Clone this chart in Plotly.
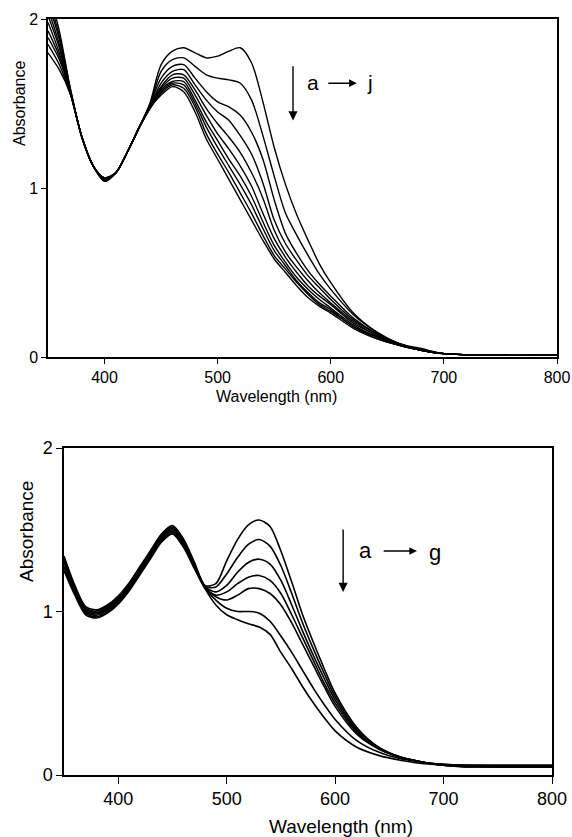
import plotly.graph_objects as go

# --- data (wavelength in nm, absorbance) ---
WL_TOP = [350, 360, 370, 380, 390, 400, 410, 420, 430, 440, 450, 460, 470, 480, 490,
          500, 510, 520, 530, 540, 550, 560, 570, 580, 590, 600, 620, 640, 660, 680,
          700, 750, 800]

TOP_LABELS = ["a", "b", "c", "d", "e", "f", "g", "h", "i", "j"]
TOP_A = [1.80, 1.70, 1.55, 1.30, 1.13, 1.04, 1.09, 1.21, 1.35, 1.50, 1.73, 1.81, 1.83, 1.80, 1.77,
         1.78, 1.81, 1.83, 1.74, 1.51, 1.24, 1.02, 0.84, 0.69, 0.55, 0.44, 0.26, 0.15, 0.08, 0.05,
         0.02, 0.01, 0.01]
TOP_B = [1.85, 1.73, 1.55, 1.30, 1.13, 1.04, 1.09, 1.21, 1.35, 1.49, 1.69, 1.76, 1.77, 1.72, 1.67,
         1.65, 1.64, 1.62, 1.52, 1.31, 1.07, 0.85, 0.72, 0.60, 0.49, 0.40, 0.25, 0.15, 0.08, 0.04,
         0.02, 0.01, 0.01]
TOP_C = [1.89, 1.76, 1.56, 1.30, 1.13, 1.05, 1.09, 1.21, 1.35, 1.49, 1.65, 1.72, 1.73, 1.65, 1.57,
         1.51, 1.48, 1.43, 1.33, 1.17, 0.93, 0.73, 0.61, 0.51, 0.43, 0.36, 0.23, 0.14, 0.08, 0.04,
         0.02, 0.01, 0.01]
TOP_D = [1.93, 1.78, 1.56, 1.30, 1.13, 1.05, 1.09, 1.21, 1.35, 1.48, 1.62, 1.69, 1.70, 1.61, 1.52,
         1.45, 1.40, 1.31, 1.20, 1.03, 0.81, 0.67, 0.57, 0.48, 0.41, 0.34, 0.22, 0.14, 0.08, 0.04,
         0.02, 0.01, 0.01]
TOP_E = [1.98, 1.80, 1.56, 1.30, 1.13, 1.05, 1.09, 1.21, 1.35, 1.48, 1.60, 1.67, 1.67, 1.58, 1.47,
         1.38, 1.30, 1.21, 1.09, 0.94, 0.75, 0.62, 0.53, 0.45, 0.38, 0.32, 0.21, 0.13, 0.08, 0.04,
         0.02, 0.01, 0.01]
TOP_F = [2.02, 1.83, 1.56, 1.30, 1.13, 1.05, 1.09, 1.21, 1.35, 1.48, 1.59, 1.65, 1.65, 1.55, 1.43,
         1.32, 1.23, 1.13, 1.01, 0.85, 0.70, 0.59, 0.50, 0.42, 0.36, 0.31, 0.20, 0.13, 0.07, 0.04,
         0.02, 0.01, 0.01]
TOP_G = [2.06, 1.85, 1.57, 1.30, 1.13, 1.06, 1.09, 1.21, 1.35, 1.47, 1.58, 1.63, 1.63, 1.52, 1.39,
         1.28, 1.17, 1.07, 0.95, 0.80, 0.66, 0.56, 0.47, 0.40, 0.34, 0.29, 0.19, 0.12, 0.07, 0.04,
         0.02, 0.01, 0.01]
TOP_H = [2.10, 1.88, 1.57, 1.30, 1.13, 1.06, 1.09, 1.21, 1.35, 1.47, 1.57, 1.62, 1.61, 1.50, 1.36,
         1.24, 1.13, 1.02, 0.90, 0.76, 0.63, 0.54, 0.45, 0.38, 0.32, 0.28, 0.18, 0.12, 0.07, 0.04,
         0.02, 0.01, 0.01]
TOP_I = [2.14, 1.90, 1.58, 1.30, 1.13, 1.06, 1.09, 1.21, 1.35, 1.47, 1.56, 1.61, 1.59, 1.48, 1.32,
         1.20, 1.09, 0.97, 0.85, 0.72, 0.60, 0.52, 0.44, 0.37, 0.31, 0.27, 0.18, 0.11, 0.07, 0.04,
         0.02, 0.01, 0.01]
TOP_J = [2.18, 1.93, 1.58, 1.30, 1.13, 1.06, 1.09, 1.21, 1.35, 1.47, 1.55, 1.60, 1.57, 1.45, 1.29,
         1.17, 1.05, 0.93, 0.81, 0.69, 0.58, 0.50, 0.42, 0.35, 0.30, 0.26, 0.17, 0.11, 0.07, 0.04,
         0.02, 0.01, 0.01]

WL_BOT = [350, 360, 370, 380, 390, 400, 410, 420, 430, 440, 450, 460, 470, 480, 490,
          500, 510, 520, 530, 540, 550, 560, 570, 580, 590, 600, 620, 640, 660, 680,
          700, 720, 750, 800]

BOT_LABELS = ["a", "b", "c", "d", "e", "f", "g"]
BOT_A = [1.34, 1.16, 1.030, 1.010, 1.040, 1.095, 1.175, 1.275, 1.375, 1.475, 1.525, 1.445, 1.305, 1.160, 1.17,
         1.31, 1.44, 1.53, 1.56, 1.52, 1.37, 1.18, 0.98, 0.81, 0.65, 0.50, 0.29, 0.17, 0.11, 0.08,
         0.065, 0.06, 0.06, 0.06]
BOT_B = [1.33, 1.15, 1.020, 1.002, 1.032, 1.087, 1.167, 1.267, 1.367, 1.467, 1.517, 1.437, 1.298, 1.155, 1.15,
         1.23, 1.33, 1.41, 1.44, 1.40, 1.28, 1.11, 0.93, 0.77, 0.62, 0.48, 0.28, 0.17, 0.11, 0.08,
         0.065, 0.06, 0.06, 0.06]
BOT_C = [1.31, 1.14, 1.013, 0.993, 1.023, 1.078, 1.158, 1.258, 1.358, 1.458, 1.508, 1.428, 1.292, 1.152, 1.12,
         1.16, 1.24, 1.30, 1.32, 1.29, 1.19, 1.04, 0.88, 0.73, 0.59, 0.46, 0.27, 0.16, 0.11, 0.08,
         0.06, 0.06, 0.055, 0.055]
BOT_D = [1.30, 1.13, 1.005, 0.985, 1.015, 1.070, 1.150, 1.250, 1.350, 1.450, 1.500, 1.420, 1.285, 1.150, 1.10,
         1.12, 1.17, 1.21, 1.22, 1.19, 1.11, 0.98, 0.84, 0.70, 0.56, 0.44, 0.26, 0.16, 0.11, 0.08,
         0.06, 0.055, 0.055, 0.055]
BOT_E = [1.28, 1.12, 0.997, 0.977, 1.007, 1.062, 1.142, 1.242, 1.342, 1.442, 1.492, 1.412, 1.278, 1.147, 1.09,
         1.07, 1.10, 1.14, 1.14, 1.11, 1.04, 0.93, 0.80, 0.67, 0.54, 0.42, 0.25, 0.16, 0.11, 0.08,
         0.06, 0.055, 0.05, 0.05]
BOT_F = [1.27, 1.11, 0.988, 0.968, 0.998, 1.053, 1.133, 1.233, 1.333, 1.433, 1.483, 1.403, 1.272, 1.144, 1.07,
         1.02, 1.00, 1.00, 0.99, 0.94, 0.85, 0.75, 0.64, 0.53, 0.43, 0.34, 0.21, 0.14, 0.10, 0.08,
         0.06, 0.05, 0.05, 0.05]
BOT_G = [1.25, 1.10, 0.980, 0.960, 0.990, 1.045, 1.125, 1.225, 1.325, 1.425, 1.475, 1.395, 1.265, 1.140, 1.04,
         0.98, 0.95, 0.925, 0.905, 0.86, 0.75, 0.65, 0.54, 0.44, 0.35, 0.27, 0.17, 0.12, 0.09, 0.07,
         0.06, 0.05, 0.05, 0.05]

TOP_SERIES = [TOP_A, TOP_B, TOP_C, TOP_D, TOP_E, TOP_F, TOP_G, TOP_H, TOP_I, TOP_J]
BOT_SERIES = [BOT_A, BOT_B, BOT_C, BOT_D, BOT_E, BOT_F, BOT_G]

W, H = 572, 837
FONT = "Liberation Sans, Arial, Helvetica, sans-serif"


def px_x(p):
    # window pixel -> paper fraction
    return p / W


def px_y(p):
    return 1 - p / H


fig = go.Figure()

for name, vals in zip(TOP_LABELS, TOP_SERIES):
    fig.add_trace(go.Scatter(x=WL_TOP, y=vals, mode="lines", name=name,
                             line=dict(color="black", width=1.4, shape="spline", smoothing=0.8),
                             xaxis="x", yaxis="y", showlegend=False))

for name, vals in zip(BOT_LABELS, BOT_SERIES):
    fig.add_trace(go.Scatter(x=WL_BOT, y=vals, mode="lines", name=name,
                             line=dict(color="black", width=1.6, shape="spline", smoothing=0.8),
                             xaxis="x2", yaxis="y2", showlegend=False))

# automargin off so the pixel domains below stay where they are put
axis_common = dict(showline=True, mirror=True, linecolor="black", linewidth=1.5,
                   showgrid=False, zeroline=False, ticks="outside", tickcolor="black",
                   tickwidth=1.3, automargin=False)

fig.update_layout(
    width=W, height=H,
    margin=dict(l=0, r=0, t=0, b=0, autoexpand=False),
    paper_bgcolor="white", plot_bgcolor="white",
    font=dict(family=FONT, color="black"),
    xaxis=dict(axis_common, domain=[px_x(48), px_x(557)], range=[350, 800],
               tickvals=[400, 500, 600, 700, 800], ticklen=5,
               tickfont=dict(size=16), anchor="y"),
    yaxis=dict(axis_common, domain=[px_y(357), px_y(19)], range=[0, 2],
               tickvals=[0, 1, 2], ticklen=5, tickfont=dict(size=16), anchor="x"),
    xaxis2=dict(axis_common, domain=[px_x(64), px_x(552)], range=[350, 800],
                tickvals=[400, 500, 600, 700, 800], ticklen=7,
                tickfont=dict(size=18), anchor="y2"),
    yaxis2=dict(axis_common, domain=[px_y(775), px_y(448)], range=[0, 2],
                tickvals=[0, 1, 2], ticklen=6, tickfont=dict(size=18), anchor="x2"),
)

# axis titles placed where the original has them (explicit centre anchors)
title_kw = dict(xref="paper", yref="paper", showarrow=False,
                xanchor="center", yanchor="middle")
fig.add_annotation(text="Wavelength (nm)", x=px_x(276), y=px_y(396),
                   font=dict(size=16), **title_kw)
fig.add_annotation(text="Absorbance", textangle=-90, x=px_x(19), y=px_y(104),
                   font=dict(size=16), **title_kw)
fig.add_annotation(text="Wavelength (nm)", x=px_x(341), y=px_y(826),
                   font=dict(size=19), **title_kw)
fig.add_annotation(text="Absorbance", textangle=-90, x=px_x(26), y=px_y(532),
                   font=dict(size=19), **title_kw)

# "a -> j" marker, top panel
fig.add_annotation(x=566.6, y=1.40, ax=566.6, ay=1.73, xref="x", yref="y",
                   axref="x", ayref="y", text="", showarrow=True,
                   arrowhead=2, arrowsize=1.3, arrowwidth=1.4, arrowcolor="black")
fig.add_annotation(x=623.0, y=1.62, ax=596.5, ay=1.62, xref="x", yref="y",
                   axref="x", ayref="y", text="", showarrow=True,
                   arrowhead=2, arrowsize=1.1, arrowwidth=1.4, arrowcolor="black")
fig.add_annotation(x=584.0, y=1.625, xref="x", yref="y", text="a",
                   showarrow=False, font=dict(size=21))
fig.add_annotation(x=634.5, y=1.625, xref="x", yref="y", text="j",
                   showarrow=False, font=dict(size=21))

# "a -> g" marker, bottom panel
fig.add_annotation(x=607.4, y=1.12, ax=607.4, ay=1.51, xref="x2", yref="y2",
                   axref="x2", ayref="y2", text="", showarrow=True,
                   arrowhead=2, arrowsize=1.3, arrowwidth=1.4, arrowcolor="black")
fig.add_annotation(x=675.5, y=1.37, ax=643.4, ay=1.37, xref="x2", yref="y2",
                   axref="x2", ayref="y2", text="", showarrow=True,
                   arrowhead=2, arrowsize=1.1, arrowwidth=1.4, arrowcolor="black")
fig.add_annotation(x=627.7, y=1.375, xref="x2", yref="y2", text="a",
                   showarrow=False, font=dict(size=22))
fig.add_annotation(x=692.3, y=1.36, xref="x2", yref="y2", text="g",
                   showarrow=False, font=dict(size=22))

# drop the browser's default 8px body margin so the figure fills the window exactly,
# and keep the modebar out of the picture
fig.write_html("out.html",
               config={"displayModeBar": False},
               post_script="document.body.style.margin='0';document.body.style.overflow='hidden';")
